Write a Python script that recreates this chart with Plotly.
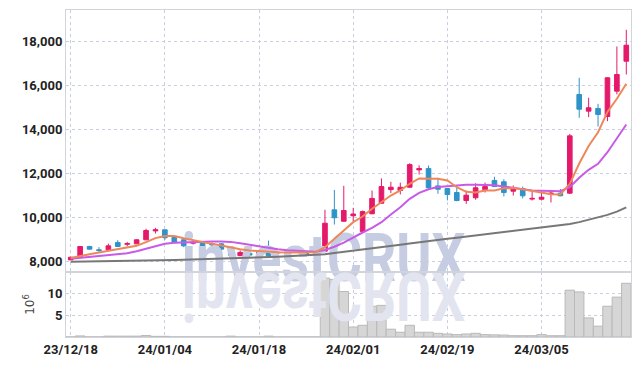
import plotly.graph_objects as go
from plotly.subplots import make_subplots

# ---- data ----
dates = [
    "23/12/18", "23/12/19", "23/12/20", "23/12/21", "23/12/22", "23/12/26", "23/12/27", "23/12/28",
    "24/01/02", "24/01/03", "24/01/04", "24/01/05", "24/01/08", "24/01/09", "24/01/10", "24/01/11",
    "24/01/12", "24/01/15", "24/01/16", "24/01/17", "24/01/18", "24/01/19", "24/01/22", "24/01/23",
    "24/01/24", "24/01/25", "24/01/26", "24/01/29", "24/01/30", "24/01/31", "24/02/01", "24/02/02",
    "24/02/05", "24/02/06", "24/02/07", "24/02/08", "24/02/13", "24/02/14", "24/02/15", "24/02/16",
    "24/02/19", "24/02/20", "24/02/21", "24/02/22", "24/02/23", "24/02/26", "24/02/27", "24/02/28",
    "24/02/29", "24/03/04", "24/03/05", "24/03/06", "24/03/07", "24/03/08", "24/03/11", "24/03/12",
    "24/03/13", "24/03/14", "24/03/15", "24/03/18",
]
tick_labels = ["23/12/18", "24/01/04", "24/01/18", "24/02/01", "24/02/19", "24/03/05"]

open_ = [8060, 8180, 8670, 8520, 8520, 8850, 8770, 8790, 8975, 9380,
         9430, 9090, 8975, 8820, 8850, 8790, 8790, 8580, 8250, 8360,
         8280, 8450, 8380, 8310, 8400, 8450, 8340, 8455, 10340, 9820,
         10070, 9350, 10160, 10640, 11260, 11220, 11370, 12160, 12220, 11430,
         11310, 11130, 10765, 10890, 11255, 11680, 11617, 11190, 11310, 10830,
         10825, 11050, 11098, 11100, 15595, 14835, 14957, 14592, 15745, 17112]
high = [8200, 8690, 8700, 8640, 8800, 8960, 8880, 9000, 9480, 9520,
        9440, 9140, 8990, 8975, 8910, 8850, 8830, 8640, 8490, 8430,
        8480, 8940, 8440, 8530, 8530, 8470, 8370, 10340, 11250, 11435,
        10430, 10310, 11220, 11770, 11620, 11580, 12465, 12370, 12360, 11800,
        11330, 11370, 11220, 11550, 11580, 11850, 11736, 11450, 11400, 11160,
        11220, 11250, 11290, 13800, 16356, 15445, 15170, 16380, 17782, 18543]
low = [8050, 8170, 8520, 8400, 8500, 8640, 8680, 8780, 8960, 9260,
       8970, 8820, 8640, 8760, 8550, 8640, 8460, 8210, 8240, 8200,
       8270, 8210, 8340, 8300, 8390, 8270, 8300, 8440, 9670, 9800,
       9820, 9290, 10140, 10610, 11100, 11040, 11350, 11950, 11250, 11070,
       10770, 10730, 10610, 10800, 11130, 11380, 10948, 10990, 10860, 10765,
       10765, 10675, 10960, 11060, 14533, 14564, 14137, 14380, 15600, 16506]
close = [8180, 8670, 8550, 8490, 8700, 8670, 8800, 8975, 9400, 9430,
         9070, 8850, 8700, 8860, 8640, 8750, 8550, 8270, 8400, 8280,
         8430, 8250, 8400, 8430, 8450, 8280, 8320, 9730, 9980, 10310,
         10150, 10260, 10860, 11400, 11370, 11370, 12400, 12220, 11345, 11280,
         11040, 10765, 11007, 11345, 11400, 11400, 11130, 11310, 10980, 10860,
         10916, 11100, 10980, 13710, 14925, 14990, 14684, 16356, 16506, 17841]

# volume in millions of shares
volume = [0.02, 0.25, 0.02, 0.02, 0.2, 0.2, 0.2, 0.2, 0.35, 0.15,
          0.15, 0.02, 0.02, 0.02, 0.02, 0.02, 0.02, 0.2, 0.02, 0.02,
          0.02, 0.2, 0.02, 0.02, 0.02, 0.02, 0.02, 13.6, 13.3, 10.5,
          2.3, 2.7, 7.1, 7.3, 1.8, 1.1, 2.7, 1.1, 1.1, 0.85,
          0.7, 0.55, 0.7, 0.85, 0.55, 0.5, 0.45, 0.3, 0.3, 0.3,
          0.55, 0.3, 0.3, 10.8, 10.4, 4.4, 2.5, 7.1, 9.2, 12.4]

ma_short = [8150, 8250, 8320, 8400, 8480, 8560, 8620, 8700, 8870, 9050,
            9150, 9150, 9050, 8960, 8860, 8790, 8720, 8624, 8547, 8487,
            8455, 8428, 8410, 8396, 8396, 8396, 8410, 8638, 9002, 9399,
            9780, 10036, 10387, 10688, 10993, 11221, 11526, 11768, 11768, 11753,
            11677, 11371, 11162, 11130, 11221, 11221, 11320, 11330, 11280, 11200,
            11130, 11050, 11040, 11526, 12450, 13250, 13877, 14800, 15400, 16082]
ma_mid = [8110, 8155, 8182, 8214, 8260, 8305, 8364, 8455, 8565, 8670,
          8793, 8838, 8860, 8884, 8897, 8900, 8900, 8880, 8820, 8747,
          8670, 8592, 8547, 8501, 8474, 8442, 8428, 8510, 8660, 8850,
          9094, 9307, 9521, 9777, 10128, 10460, 10843, 11110, 11280, 11380,
          11420, 11460, 11480, 11480, 11480, 11462, 11403, 11326, 11280, 11221,
          11207, 11190, 11190, 11371, 11800, 12164, 12437, 12966, 13576, 14228]
ma_long = [7975, 7980, 7985, 7990, 7995, 8000, 8010, 8020, 8030, 8040,
           8050, 8060, 8070, 8080, 8090, 8100, 8110, 8120, 8135, 8150,
           8165, 8180, 8200, 8220, 8240, 8260, 8280, 8320, 8370, 8420,
           8470, 8520, 8570, 8630, 8690, 8750, 8810, 8870, 8920, 8970,
           9020, 9070, 9120, 9170, 9220, 9270, 9320, 9370, 9420, 9470,
           9520, 9570, 9620, 9690, 9780, 9880, 9990, 10110, 10260, 10450]

watermark = "investCRUX"

# ---- figure ----
idx = list(range(len(dates)))
tick_idx = [dates.index(t) for t in tick_labels]

RED = "#e5196a"
BLUE = "#2f93c8"
FONT = "Roboto"

fig = make_subplots(rows=2, cols=1, shared_xaxes=True, vertical_spacing=0)

# watermark (drawn first, under the data) and its mirrored reflection
fig.add_trace(go.Scatter(
    x=[26.85], y=[7860], mode="text", text=[watermark],
    textfont=dict(family=FONT, size=66, color="#c6cce1", weight="bold"),
    cliponaxis=False, hoverinfo="skip", showlegend=False), row=1, col=1)
fig.add_trace(go.Scatter(
    x=[26.85], y=[8.1], mode="text", text=[watermark],
    textfont=dict(family=FONT, size=66, color="#e2e5ef", weight="bold"),
    cliponaxis=False, hoverinfo="skip", showlegend=False), row=2, col=1)

fig.add_trace(go.Scatter(x=idx, y=ma_long, mode="lines",
                         line=dict(color="#777777", width=2), hoverinfo="skip",
                         showlegend=False), row=1, col=1)
fig.add_trace(go.Scatter(x=idx, y=ma_mid, mode="lines",
                         line=dict(color="#c85ae8", width=2), hoverinfo="skip",
                         showlegend=False), row=1, col=1)
fig.add_trace(go.Scatter(x=idx, y=ma_short, mode="lines",
                         line=dict(color="#ee875a", width=2), hoverinfo="skip",
                         showlegend=False), row=1, col=1)

fig.add_trace(go.Candlestick(
    x=idx, open=open_, high=high, low=low, close=close,
    increasing=dict(line=dict(color=RED, width=1), fillcolor=RED),
    decreasing=dict(line=dict(color=BLUE, width=1), fillcolor=BLUE),
    whiskerwidth=0, showlegend=False), row=1, col=1)

fig.add_trace(go.Bar(x=idx, y=volume, marker=dict(color="#d6d6d6",
                     line=dict(color="#b9b9b9", width=1)),
                     showlegend=False), row=2, col=1)

grid = dict(showgrid=True, gridcolor="#c9cee0", griddash="dot", gridwidth=1,
            zeroline=False, showline=True, mirror=True, linecolor="#d2d4dc",
            linewidth=1, automargin=False)
tickfont = dict(family=FONT, size=13, color="#222222", weight="bold")

split = 65 / 327
fig.update_layout(
    width=639, height=366,
    margin=dict(l=66, r=8, t=10, b=29),
    paper_bgcolor="white", plot_bgcolor="white",
    bargap=0, showlegend=False, hovermode=False,
    xaxis=dict(range=[-0.5, 59.5], tickvals=tick_idx, ticktext=tick_labels,
               showticklabels=False, rangeslider=dict(visible=False), **grid),
    xaxis2=dict(range=[-0.5, 59.5], tickvals=tick_idx, ticktext=tick_labels,
                tickfont=tickfont, ticks="", **grid),
    yaxis=dict(domain=[split, 1], range=[7508, 19444],
               tickvals=[8000, 10000, 12000, 14000, 16000, 18000],
               tickformat=",d", tickfont=tickfont, ticks="", **grid),
    yaxis2=dict(domain=[0, split], range=[0, 15], tickvals=[5, 10],
                tickfont=tickfont, ticks="",
                title=dict(text="10<sup>6</sup>", standoff=10,
                           font=dict(family="DejaVu Sans", size=12, color="#444444")),
                **grid),
)

post_js = """
document.body.style.margin = '0';
document.body.style.overflow = 'hidden';
var gd = document.getElementById('{plot_id}');
function styleWatermark(){
  var ts = [];
  gd.querySelectorAll('.textpoint text').forEach(function(t){
    if (t.textContent === 'investCRUX') { t.style.transform = ''; ts.push(t); }
  });
  if (!ts.length) return;
  ts.sort(function(a, b){ return a.getBoundingClientRect().top - b.getBoundingClientRect().top; });
  ts.forEach(function(t, i){
    t.style.transformBox = 'fill-box';
    t.style.transformOrigin = 'center';
    t.style.transform = (i === ts.length - 1 && ts.length > 1) ? 'scale(0.81,-1)' : 'scale(0.81,1)';
  });
}
styleWatermark();
gd.on('plotly_afterplot', styleWatermark);
"""

fig.write_html("out.html", post_script=post_js,
               config={"displayModeBar": False, "staticPlot": True})
